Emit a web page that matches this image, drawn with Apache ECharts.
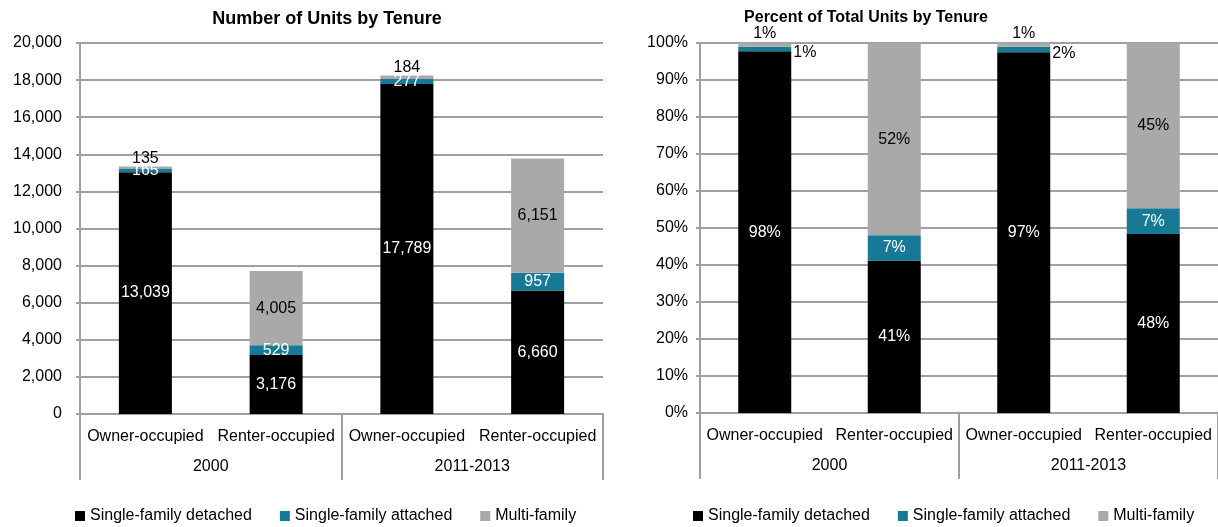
<!DOCTYPE html>
<html>
<head>
<meta charset="utf-8">
<script src="https://cdn.jsdelivr.net/npm/echarts@6/dist/echarts.min.js"></script>
<style>
  html, body { margin: 0; padding: 0; background: #fff; }
  #chart { width: 1218px; height: 527px; }
</style>
</head>
<body>
<div id="chart"></div>
<script>
// ---- Data ----
const tenures = ['Owner-occupied', 'Renter-occupied', 'Owner-occupied', 'Renter-occupied'];
const periods = ['2000', '2011-2013'];
const seriesNames = ['Single-family detached', 'Single-family attached', 'Multi-family'];

// Number of units
const unitsDetached = [13039, 3176, 17789, 6660];
const unitsAttached = [165, 529, 277, 957];
const unitsMulti = [135, 4005, 184, 6151];

// Percent of total units
const pctDetached = [97.75, 41.19, 97.47, 48.37];
const pctAttached = [1.24, 6.86, 1.52, 6.95];
const pctMulti = [1.01, 51.95, 1.01, 44.68];

const leftTicks = [0, 2000, 4000, 6000, 8000, 10000, 12000, 14000, 16000, 18000, 20000];
const rightTicks = [0, 10, 20, 30, 40, 50, 60, 70, 80, 90, 100];

// ---- Styles ----
const FONT = 'Liberation Sans, Arial, sans-serif';
const FS = 16;
const colors = ['#000000', '#167a97', '#a9a9a9'];
const gridGray = '#a0a0a0';

const chart = echarts.init(document.getElementById('chart'), null, { renderer: 'canvas' });

function fmtNum(v) { return v.toLocaleString('en-US'); }

function mkData(vals, labelFn) {
  return vals.map((v, i) => {
    const lab = labelFn(i);
    return lab ? { value: v, label: lab } : v;
  });
}

const labelBase = { show: true, fontFamily: FONT, fontSize: FS };

const leftFormatter = p => fmtNum(p.value);
const rightFormatter = p => Math.round(p.value) + '%';

const series = [
  {
    name: seriesNames[0], type: 'bar', stack: 'L', xAxisIndex: 0, yAxisIndex: 0, barWidth: 53,
    itemStyle: { color: colors[0] },
    label: Object.assign({}, labelBase, { position: 'inside', color: '#fff', formatter: leftFormatter }),
    data: unitsDetached
  },
  {
    name: seriesNames[1], type: 'bar', stack: 'L', xAxisIndex: 0, yAxisIndex: 0, barWidth: 53,
    itemStyle: { color: colors[1] },
    label: Object.assign({}, labelBase, { position: 'inside', color: '#fff', formatter: leftFormatter }),
    data: unitsAttached
  },
  {
    name: seriesNames[2], type: 'bar', stack: 'L', xAxisIndex: 0, yAxisIndex: 0, barWidth: 53,
    itemStyle: { color: colors[2] },
    label: Object.assign({}, labelBase, { position: 'inside', color: '#000', formatter: leftFormatter }),
    data: mkData(unitsMulti, i => (i % 2 === 0 ? { position: 'top', distance: 0 } : null))
  },
  {
    name: seriesNames[0], type: 'bar', stack: 'R', xAxisIndex: 2, yAxisIndex: 1, barWidth: 53,
    itemStyle: { color: colors[0] },
    label: Object.assign({}, labelBase, { position: 'inside', color: '#fff', formatter: rightFormatter }),
    data: pctDetached
  },
  {
    name: seriesNames[1], type: 'bar', stack: 'R', xAxisIndex: 2, yAxisIndex: 1, barWidth: 53,
    itemStyle: { color: colors[1] },
    label: Object.assign({}, labelBase, { position: 'inside', color: '#fff', formatter: rightFormatter }),
    data: mkData(pctAttached, i => (i % 2 === 0 ? { position: 'right', distance: 2, color: '#000', offset: [0, 4] } : null))
  },
  {
    name: seriesNames[2], type: 'bar', stack: 'R', xAxisIndex: 2, yAxisIndex: 1, barWidth: 53,
    itemStyle: { color: colors[2] },
    label: Object.assign({}, labelBase, { position: 'inside', color: '#000', formatter: rightFormatter }),
    data: mkData(pctMulti, i => (i % 2 === 0 ? { position: 'top', distance: 1 } : null))
  }
];

function subAxis(gridIndex) {
  return {
    type: 'category', gridIndex, position: 'bottom', data: tenures,
    axisLine: { show: true, lineStyle: { color: gridGray, width: 2 } },
    axisTick: { show: false },
    axisLabel: { margin: 15, fontFamily: FONT, fontSize: FS, color: '#000', interval: 0 }
  };
}
function groupAxis(gridIndex) {
  return {
    type: 'category', gridIndex, position: 'bottom', data: periods,
    axisLine: { show: false },
    axisTick: { show: true, length: 66, interval: 0, lineStyle: { color: gridGray, width: 2 } },
    axisLabel: { margin: 45, fontFamily: FONT, fontSize: FS, color: '#000', interval: 0 }
  };
}
function valAxis(gridIndex, max, interval, fmt, margin) {
  return {
    type: 'value', gridIndex, min: 0, max, interval,
    axisLine: { show: true, lineStyle: { color: gridGray, width: 2 } },
    axisTick: { show: true, length: 4, lineStyle: { color: gridGray, width: 2 } },
    splitLine: { show: true, lineStyle: { color: gridGray, width: 2 } },
    axisLabel: { margin, fontFamily: FONT, fontSize: FS, color: '#000', formatter: fmt }
  };
}

const legendCommon = {
  icon: 'rect', itemWidth: 10, itemHeight: 10, itemGap: 28,
  textStyle: { fontFamily: FONT, fontSize: FS, color: '#000' },
  data: seriesNames, selectedMode: false
};

const option = {
  animation: false,
  backgroundColor: '#fff',
  title: [
    { text: 'Number of Units by Tenure', left: 322, top: 5, textAlign: 'center',
      textStyle: { fontFamily: FONT, fontSize: 18, fontWeight: 'bold', color: '#000' } },
    { text: 'Percent of Total Units by Tenure', left: 861, top: 5, textAlign: 'center',
      textStyle: { fontFamily: FONT, fontSize: 16, fontWeight: 'bold', color: '#000' } }
  ],
  legend: [
    Object.assign({ left: 70, top: 503 }, legendCommon),
    Object.assign({ left: 688, top: 503 }, legendCommon)
  ],
  grid: [
    { left: 80, top: 43, width: 523, height: 371 },
    { left: 700, top: 43, width: 524, height: 370 }
  ],
  xAxis: [subAxis(0), groupAxis(0), subAxis(1), groupAxis(1)],
  yAxis: [
    valAxis(0, leftTicks[leftTicks.length - 1], leftTicks[1] - leftTicks[0], v => fmtNum(v), 18),
    valAxis(1, rightTicks[rightTicks.length - 1], rightTicks[1] - rightTicks[0], v => v + '%', 12)
  ],
  series
};

chart.setOption(option);
</script>
</body>
</html>
